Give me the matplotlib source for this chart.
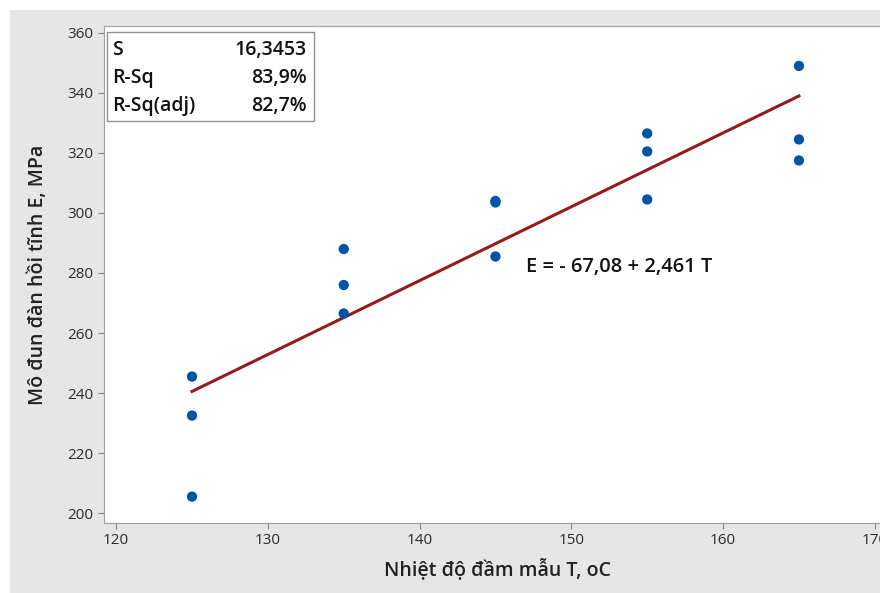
import matplotlib.pyplot as plt
from matplotlib.patches import Rectangle
import numpy as np

# Nhiệt độ đầm mẫu (oC) và mô đun đàn hồi đo được (MPa)
temp = [125, 125, 125, 135, 135, 135, 145, 145, 145, 155, 155, 155, 165, 165, 165]
modulus = [245.5, 232.5, 205.5, 288.0, 276.0, 266.5, 304.0, 303.5, 285.5,
           326.5, 320.5, 304.5, 349.0, 324.5, 317.5]

# Hệ số hồi quy và thống kê
intercept = -67.08
slope = 2.461
stat_names = ["S", "R-Sq", "R-Sq(adj)"]
stat_values = ["16,3453", "83,9%", "82,7%"]
xticks = [120, 130, 140, 150, 160, 170]
yticks = [200, 220, 240, 260, 280, 300, 320, 340, 360]

plt.rcParams["font.family"] = ["Open Sans", "DejaVu Sans"]

fig = plt.figure(figsize=(8.8, 5.93), dpi=100)
fig.patches.append(Rectangle((10 / 880, 0), 1, 1 - 10 / 593, transform=fig.transFigure,
                             facecolor="#e6e6e6", edgecolor="none", zorder=-10))

ax = fig.add_axes([104 / 880, 70 / 593, 786 / 880, 497 / 593])
ax.set_facecolor("white")

# Đường hồi quy
xs = np.linspace(min(temp), max(temp), 100)
ax.plot(xs, intercept + slope * xs, color="#921c1c", lw=2.2, zorder=2)
ax.scatter(temp, modulus, s=55, color="#0054a6", zorder=3, edgecolors="none")

ax.set_xlim(119.2, 171.0)
ax.set_ylim(196.7, 362.3)
ax.set_xticks(xticks)
ax.set_yticks(yticks)
ax.tick_params(axis="both", direction="out", length=4, color="#808080",
               labelsize=11, labelcolor="#2a2a2a")
for sp in ax.spines.values():
    sp.set_color("#a0a0a0")

ax.set_xlabel("Nhiệt độ đầm mẫu T, oC", fontsize=14, fontweight="semibold",
              color="#222222", labelpad=7)
ax.set_ylabel("Mô đun đàn hồi tĩnh E, MPa", fontsize=14, fontweight="semibold",
              color="#222222", labelpad=14)

# Bảng thống kê
box_l, box_t = 3 / 786, 1 - 6 / 497
box_w, box_h = 207 / 786, 89 / 497
ax.add_patch(Rectangle((box_l, box_t - box_h), box_w, box_h, transform=ax.transAxes,
                       facecolor="white", edgecolor="#909090", lw=1, zorder=4))
for i, (name, val) in enumerate(zip(stat_names, stat_values)):
    y = box_t - (18 + 28 * i) / 497
    ax.text(box_l + 5 / 786, y, name, transform=ax.transAxes, fontsize=14,
            fontweight="semibold", va="center", ha="left", color="#111111", zorder=5)
    ax.text(box_l + box_w - 7 / 786, y, val, transform=ax.transAxes, fontsize=14,
            fontweight="semibold", va="center", ha="right", color="#111111", zorder=5)

ax.text(147.0, 282, "E = - 67,08 + 2,461 T", fontsize=14.5, fontweight="semibold",
        va="center", ha="left", color="#111111")

fig.savefig("out.png", dpi=100)
